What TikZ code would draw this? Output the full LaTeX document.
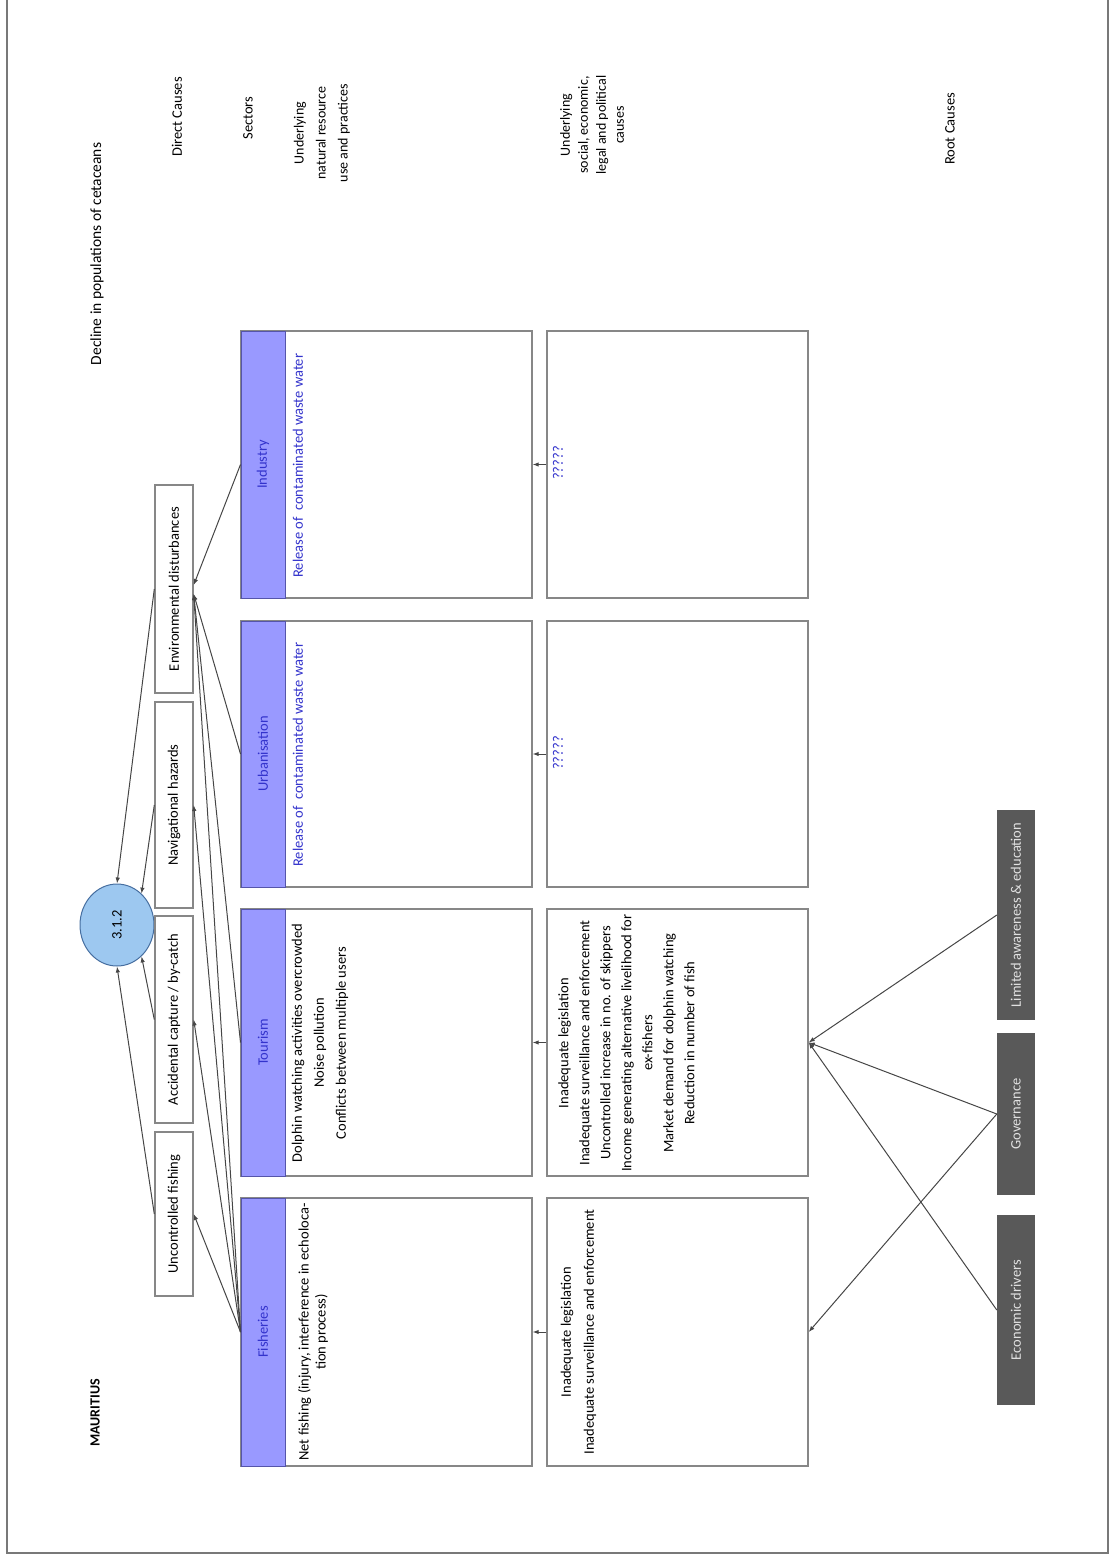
\documentclass[tikz,border=0pt]{standalone}
\usepackage{fontspec}
\setmainfont{Carlito}
\usepackage{graphicx}
\usetikzlibrary{arrows.meta,calc,shapes.geometric}

\definecolor{frame}{RGB}{120,120,120}
\definecolor{boxline}{RGB}{135,135,135}
\definecolor{sectorfill}{RGB}{153,153,255}
\definecolor{sectorline}{RGB}{85,85,170}
\definecolor{sectortext}{RGB}{51,51,204}
\definecolor{rootfill}{RGB}{89,89,89}
\definecolor{roottext}{RGB}{225,225,225}
\definecolor{ovalfill}{RGB}{157,200,240}
\definecolor{ovalline}{RGB}{70,110,160}
\definecolor{wire}{RGB}{70,70,70}

\begin{document}
\begin{tikzpicture}[x=1pt,y=-1pt,
  basefont/.style={font=\fontsize{14.5}{17}\selectfont},
  txt/.style={basefont, inner sep=0pt, rotate=90, align=center},
  widetxt/.style={txt, font=\fontsize{14.5}{21}\selectfont},
  causebox/.style={basefont, draw=boxline, line width=1.4pt, fill=white,
    minimum width=38pt, inner sep=0pt},
  rootbox/.style={basefont, fill=rootfill, text=roottext,
    minimum width=38pt, inner sep=0pt},
  header/.style={basefont, draw=sectorline, line width=1pt, fill=sectorfill,
    text=sectortext, minimum width=44pt, inner sep=0pt},
  bodybox/.style={draw=boxline, line width=1.4pt, fill=white, inner sep=0pt},
  wire/.style={draw=wire, line width=1pt},
  arr/.style={wire, -{Latex[length=6pt,width=4.5pt]}}
]
\useasboundingbox (0,0) rectangle (1112,1558);

% page frame
\draw[frame, line width=2pt] (7,0) -- (7,1553) -- (1108,1553) -- (1108,0);

% row titles
\node[txt, font=\bfseries\fontsize{14}{17}\selectfont] (country) at (95,1413) {MAURITIUS};
\node[txt, font=\fontsize{15.5}{17}\selectfont] (problem) at (97,254) {Decline in populations of cetaceans};
\node[txt] (tdirect) at (177,117) {Direct Causes};
\node[txt] (tsector) at (248,118) {Sectors};
\node[widetxt, font=\fontsize{14}{22}\selectfont] (tnatural) at (322,133) {Underlying\\natural resource\\use and practices};
\node[widetxt, font=\fontsize{14}{18}\selectfont] (tsocial) at (592,125) {Underlying\\social, economic,\\legal and political\\causes};
\node[txt] (troot) at (950,129) {Root Causes};

% target
\node[ellipse, draw=ovalline, line width=1pt, fill=ovalfill, minimum width=74pt,
  minimum height=82pt, inner sep=0pt, basefont] (target) at (117,925) {\rotatebox{90}{3.1.2}};

% direct causes
\node[causebox, minimum height=208pt] (env) at (174,589) {\rotatebox{90}{Environmental disturbances}};
\node[causebox, minimum height=206pt] (nav) at (174,805) {\rotatebox{90}{Navigational hazards}};
\node[causebox, minimum height=207pt] (acc) at (174,1019.5) {\rotatebox{90}{Accidental capture / by-catch}};
\node[causebox, minimum height=164pt] (unc) at (174,1214) {\rotatebox{90}{Uncontrolled fishing}};

% sectors: outline box with coloured header band
\node[bodybox, minimum width=291pt, minimum height=267pt] (indbox) at (386.5,464.5) {};
\node[header, minimum height=267pt] (ind) at (263,464.5) {\rotatebox{90}{Industry}};
\node[bodybox, minimum width=291pt, minimum height=266pt] (urbbox) at (386.5,754) {};
\node[header, minimum height=266pt] (urb) at (263,754) {\rotatebox{90}{Urbanisation}};
\node[bodybox, minimum width=291pt, minimum height=267pt] (tourbox) at (386.5,1042.5) {};
\node[header, minimum height=267pt] (tour) at (263,1042.5) {\rotatebox{90}{Tourism}};
\node[bodybox, minimum width=291pt, minimum height=268pt] (fishbox) at (386.5,1332) {};
\node[header, minimum height=268pt] (fish) at (263,1332) {\rotatebox{90}{Fisheries}};

\node[txt, anchor=west, text=sectortext] (indtxt) at (298,578) {Release of\ \ contaminated waste water};
\node[txt, anchor=west, text=sectortext] (urbtxt) at (298,867) {Release of\ \ contaminated waste water};
\node[widetxt, font=\fontsize{14.5}{22}\selectfont] (tourtxt) at (320,1043)
  {Dolphin watching activities overcrowded\\Noise pollution\\Conflicts between multiple users};
\node[txt, font=\fontsize{14.5}{17}\selectfont] (fishtxt) at (313,1332)
  {Net fishing (injury, interference in echoloca-\\tion process)};

% underlying social, economic, legal and political causes
\node[bodybox, minimum width=261pt, minimum height=267pt] (uind) at (677.5,464.5) {};
\node[bodybox, minimum width=261pt, minimum height=266pt] (uurb) at (677.5,754) {};
\node[bodybox, minimum width=261pt, minimum height=267pt] (utour) at (677.5,1042.5) {};
\node[bodybox, minimum width=261pt, minimum height=268pt] (ufish) at (677.5,1332) {};

\node[txt, text=sectortext] (uindtxt) at (558,463) {?????};
\node[txt, text=sectortext] (uurbtxt) at (558,753) {?????};
\node[widetxt] (utourtxt) at (626.5,1043)
  {Inadequate legislation\\Inadequate surveillance and enforcement\\Uncontrolled increase in no. of skippers\\Income generating alternative livelihood for\\ex-fishers\\Market demand for dolphin watching\\Reduction in number of fish};
\node[widetxt, font=\fontsize{14.5}{23}\selectfont] (ufishtxt) at (578.5,1332)
  {Inadequate legislation\\Inadequate surveillance and enforcement};

% root causes
\node[rootbox, minimum height=210pt] (lim) at (1016,915) {\rotatebox{90}{Limited awareness \& education}};
\node[rootbox, minimum height=162pt] (gov) at (1016,1114) {\rotatebox{90}{Governance}};
\node[rootbox, minimum height=190pt] (eco) at (1016,1310) {\rotatebox{90}{Economic drivers}};

% direct causes -> target
\draw[arr] (env.west) -- (target.north);
\draw[arr] (nav.west) -- (target.52);
\draw[arr] (acc.west) -- (target.-52);
\draw[arr] (unc.west) -- (target.south);

% sectors -> direct causes
\draw[arr] (ind.west) -- ($(env.east)+(0,-4)$);
\draw[arr] (urb.west) -- ($(env.east)+(0,5)$);
\draw[arr] (tour.west) -- ($(env.east)+(0,5)$);
\draw[arr] (fish.west) -- ($(env.east)+(0,5)$);
\draw[arr] (fish.west) -- (nav.east);
\draw[arr] (fish.west) -- (acc.east);
\draw[arr] (fish.west) -- (unc.east);

% underlying causes -> sectors
\draw[arr] (uind.west) -- (indbox.east);
\draw[arr] (uurb.west) -- (urbbox.east);
\draw[arr] (utour.west) -- (tourbox.east);
\draw[arr] (ufish.west) -- (fishbox.east);

% root causes -> underlying causes
\draw[arr] (lim.west) -- (utour.east);
\draw[arr] (gov.west) -- (utour.east);
\draw[arr] (eco.west) -- (utour.east);
\draw[arr] (gov.west) -- (ufish.east);
\end{tikzpicture}
\end{document}
